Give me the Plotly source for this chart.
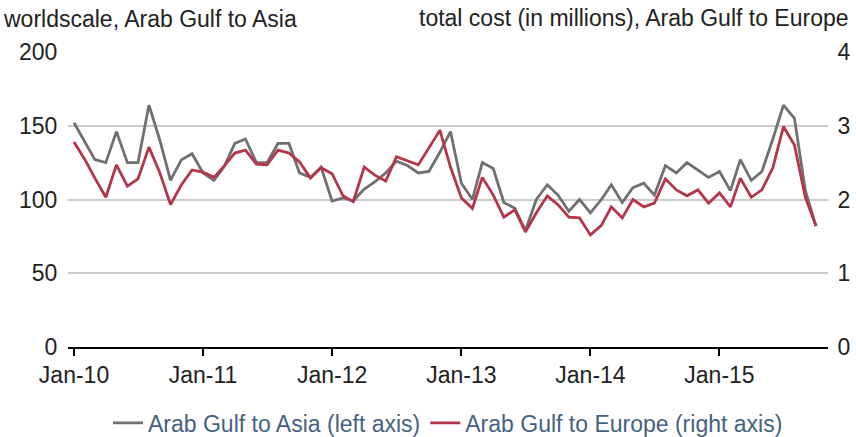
import pandas as pd
import plotly.graph_objects as go

# Monthly data, Jan-2010 .. Oct-2015
months = pd.date_range("2010-01-01", periods=70, freq="MS")

asia_ws = [152, 139, 127, 125, 146, 125, 125, 164, 140, 113,
           127, 131, 118, 113, 122, 138, 141, 125, 125, 138,
           138, 118, 115, 122, 99, 101, 99, 107, 112, 118,
           126, 123, 118, 119, 132, 146, 111, 100, 125, 121,
           98, 94, 79, 100, 110, 103, 92, 100, 91, 100,
           110, 98, 108, 111, 103, 123, 118, 125, 120, 115,
           119, 106, 127, 113, 119, 141, 164, 155, 106, 82]

europe_cost = [2.78, 2.54, 2.29, 2.03, 2.47, 2.18, 2.28, 2.71, 2.36, 1.93,
               2.20, 2.40, 2.37, 2.30, 2.45, 2.63, 2.67, 2.48, 2.47, 2.67,
               2.63, 2.51, 2.29, 2.43, 2.35, 2.05, 1.97, 2.44, 2.33, 2.25,
               2.58, 2.52, 2.47, 2.70, 2.94, 2.44, 2.02, 1.88, 2.30, 2.06,
               1.76, 1.86, 1.56, 1.82, 2.05, 1.93, 1.76, 1.75, 1.52, 1.65,
               1.90, 1.75, 2.00, 1.90, 1.95, 2.28, 2.13, 2.05, 2.13, 1.95,
               2.09, 1.90, 2.29, 2.03, 2.13, 2.43, 2.99, 2.74, 2.03, 1.64]

tick_dates = ["2010-01-01", "2011-01-01", "2012-01-01", "2013-01-01", "2014-01-01", "2015-01-01"]
tick_labels = ["Jan-10", "Jan-11", "Jan-12", "Jan-13", "Jan-14", "Jan-15"]

left_ticks = [0, 50, 100, 150, 200]
right_ticks = [0, 1, 2, 3, 4]

GRAY = "#707070"
RED = "#b3364a"
FONT = "Liberation Sans, Arial, sans-serif"
FS = 23

W, H = 856, 437
ML, MR, MT, MB = 68, 28, 52, 90
PW, PH = W - ML - MR, H - MT - MB

fig = go.Figure()
fig.add_trace(go.Scatter(x=months, y=asia_ws, mode="lines",
                         name="Arab Gulf to Asia (left axis)",
                         line=dict(color=GRAY, width=2.8)))
fig.add_trace(go.Scatter(x=months, y=europe_cost, mode="lines",
                         name="Arab Gulf to Europe (right axis)",
                         line=dict(color=RED, width=2.8), yaxis="y2"))

fig.update_layout(
    width=W, height=H,
    margin=dict(l=ML, r=MR, t=MT, b=MB, autoexpand=False),
    paper_bgcolor="white", plot_bgcolor="white",
    font=dict(family=FONT, size=FS, color="#222222"),
    showlegend=True,
    legend=dict(orientation="h", x=0.5, xanchor="center",
                yref="container", y=1 - 423 / H, yanchor="middle",
                font=dict(family=FONT, size=FS, color="#45627f"),
                itemwidth=30, tracegroupgap=0, bgcolor="rgba(0,0,0,0)"),
    xaxis=dict(
        type="date",
        range=["2009-12-15", "2015-11-04"],
        tickvals=tick_dates, ticktext=tick_labels,
        ticks="outside", ticklen=7, tickwidth=1.5, tickcolor="black",
        showline=True, linecolor="black", linewidth=1.5,
        showgrid=False, zeroline=False,
        tickfont=dict(family=FONT, size=FS, color="#222222"),
    ),
    yaxis=dict(
        range=[0, 200], tickvals=left_ticks,
        showgrid=True, gridcolor="#cccccc", gridwidth=1.5,
        zeroline=False, showline=False,
        ticks="outside", ticklen=5, tickcolor="rgba(0,0,0,0)",
        tickfont=dict(family=FONT, size=FS, color="#222222"),
    ),
    yaxis2=dict(
        range=[0, 4], tickvals=right_ticks,
        overlaying="y", side="right",
        showgrid=False, zeroline=False, showline=False,
        ticks="outside", ticklen=4, tickcolor="rgba(0,0,0,0)",
        tickfont=dict(family=FONT, size=FS, color="#222222"),
    ),
    annotations=[
        dict(text="worldscale, Arab Gulf to Asia", xref="paper", yref="paper",
             x=(1 - ML) / PW, y=1 + (MT - 19) / PH, xanchor="left", yanchor="middle",
             showarrow=False, font=dict(family=FONT, size=FS, color="#222222")),
        dict(text="total cost (in millions), Arab Gulf to Europe", xref="paper", yref="paper",
             x=1 + (MR - 5) / PW, y=1 + (MT - 18) / PH, xanchor="right", yanchor="middle",
             showarrow=False, font=dict(family=FONT, size=FS, color="#222222")),
    ],
)

fig.write_html("out.html", config={"displayModeBar": False},
               post_script="document.body.style.margin='0';")
